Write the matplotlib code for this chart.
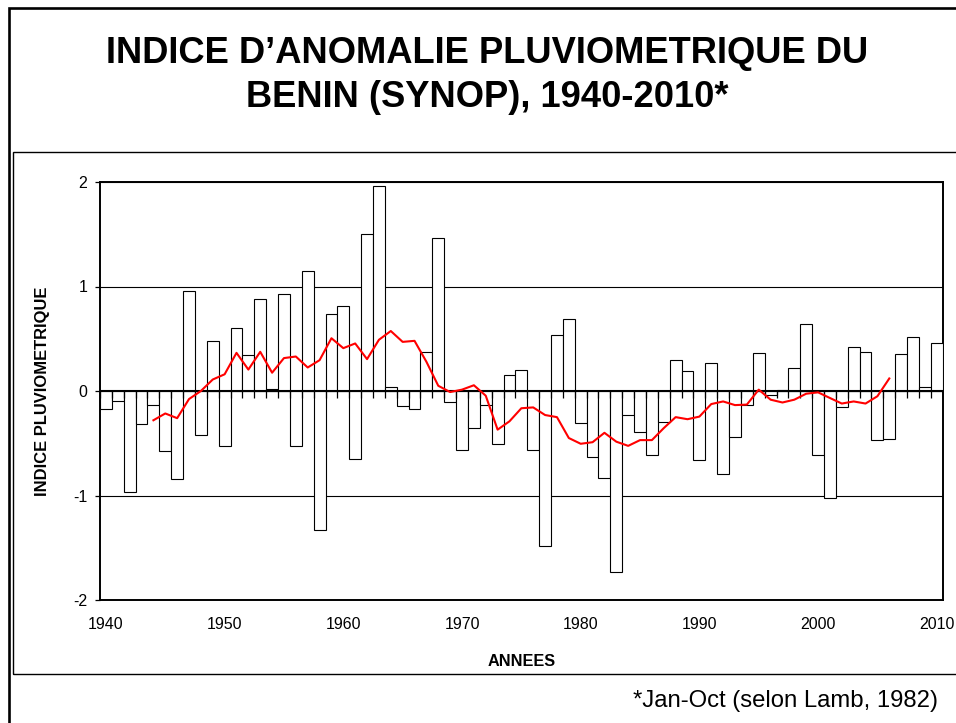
import numpy as np
import matplotlib
matplotlib.use('Agg')
import matplotlib.pyplot as plt
from matplotlib.patches import Rectangle

plt.rcParams['font.family'] = ['Liberation Sans', 'DejaVu Sans']
plt.rcParams['axes.unicode_minus'] = False

# Annual rainfall anomaly index (Jan-Oct), Benin SYNOP stations
YEARS = np.arange(1940, 2011)
INDEX = [
    -0.17, -0.10, -0.97, -0.32, -0.13, -0.57, -0.84, 0.955, -0.42, 0.48,
    -0.53, 0.60, 0.34, 0.88, 0.016, 0.93, -0.53, 1.15, -1.33, 0.74,
    0.81, -0.65, 1.50, 1.96, 0.04, -0.14, -0.17, 0.37, 1.46, -0.11,
    -0.56, -0.35, -0.13, -0.51, 0.15, 0.20, -0.56, -1.48, 0.54, 0.69,
    -0.31, -0.63, -0.83, -1.73, -0.23, -0.39, -0.61, -0.30, 0.30, 0.19,
    -0.66, 0.27, -0.79, -0.44, -0.13, 0.36, -0.035, 0.01, 0.22, 0.64,
    -0.61, -1.02, -0.15, 0.42, 0.375, -0.47, -0.46, 0.35, 0.52, 0.04,
    0.455,
]

# smoothed curve (red), 1944-2006
SMOOTH_YEARS = np.arange(1944, 2007)
SMOOTH = [
    -0.28, -0.215, -0.26, -0.077, 0.00, 0.11, 0.16, 0.365, 0.205, 0.375,
    0.175, 0.315, 0.33, 0.225, 0.295, 0.505, 0.41, 0.455, 0.305, 0.49,
    0.574, 0.47, 0.48, 0.28, 0.05, -0.01, 0.013, 0.055, -0.045, -0.37,
    -0.29, -0.165, -0.157, -0.23, -0.25, -0.45, -0.505, -0.49, -0.40, -0.485,
    -0.525, -0.47, -0.47, -0.355, -0.25, -0.27, -0.245, -0.125, -0.10, -0.135,
    -0.13, 0.013, -0.083, -0.11, -0.083, -0.026, -0.013, -0.067, -0.12, -0.10,
    -0.12, -0.05, 0.12,
]

XTICKS = [1940, 1950, 1960, 1970, 1980, 1990, 2000, 2010]
YTICKS = [-2, -1, 0, 1, 2]

W, H = 956, 723
fig = plt.figure(figsize=(W / 100, H / 100), dpi=100)

# slide frame and chart box
fig.patches.append(Rectangle((8.7 / W, -0.1), 1.2, 1 - 8.5 / H + 0.1,
                             transform=fig.transFigure, fill=False,
                             edgecolor='black', linewidth=1.9))
fig.patches.append(Rectangle((13 / W, 1 - 674.3 / H), 1.2, (674.3 - 152.3) / H,
                             transform=fig.transFigure, fill=False,
                             edgecolor='black', linewidth=1.0))

# title
fig.text(487 / W, 1 - 63.3 / H, 'INDICE D\u2019ANOMALIE PLUVIOMETRIQUE DU',
         ha='center', va='baseline', fontsize=26.2, fontweight='bold')
fig.text(487 / W, 1 - 106.7 / H, 'BENIN (SYNOP), 1940-2010*',
         ha='center', va='baseline', fontsize=26.2, fontweight='bold')

ax = fig.add_axes([100 / W, 1 - 600 / H, (942.7 - 100) / W, (600 - 182) / H])

ax.bar(YEARS, INDEX, width=1.0, color='white', edgecolor='black',
       linewidth=0.8, zorder=3)
ax.plot(SMOOTH_YEARS, SMOOTH, color='#ff0000', linewidth=1.5, zorder=5)

# zero line with category tick marks hanging below
ax.axhline(0, color='black', linewidth=1.5, zorder=4)
edges = np.append(YEARS - 0.5, YEARS[-1] + 0.5)
ax.vlines(edges, -0.064, 0, color='black', linewidth=0.9, zorder=4)

ax.set_xlim(YEARS[0] - 0.5, YEARS[-1] + 0.5)
ax.set_ylim(-2, 2)
ax.set_xticks(XTICKS)
ax.set_xticklabels([str(y) for y in XTICKS])
ax.set_yticks(YTICKS)
ax.tick_params(axis='x', length=0, pad=12.5, labelsize=11.5)
ax.tick_params(axis='y', length=3.6, width=0.9, pad=5.5, labelsize=11.5,
               direction='out')
ax.yaxis.grid(True, color='black', linewidth=0.8)
ax.set_axisbelow(True)
for sp in ax.spines.values():
    sp.set_linewidth(1.4)

ax.set_xlabel('ANNEES', fontsize=11.7, fontweight='bold', va='baseline')
ax.xaxis.set_label_coords(0.5, -(665.7 - 600) / 418)
ax.set_ylabel('INDICE PLUVIOMETRIQUE', fontsize=11.9, fontweight='bold',
              va='center')
ax.yaxis.set_label_coords((42.7 - 100) / 842.7, 0.5)

fig.text(938.3 / W, 1 - 706.7 / H, '*Jan-Oct (selon Lamb, 1982)',
         ha='right', va='baseline', fontsize=17.2)

fig.savefig('out.png', dpi=100)
